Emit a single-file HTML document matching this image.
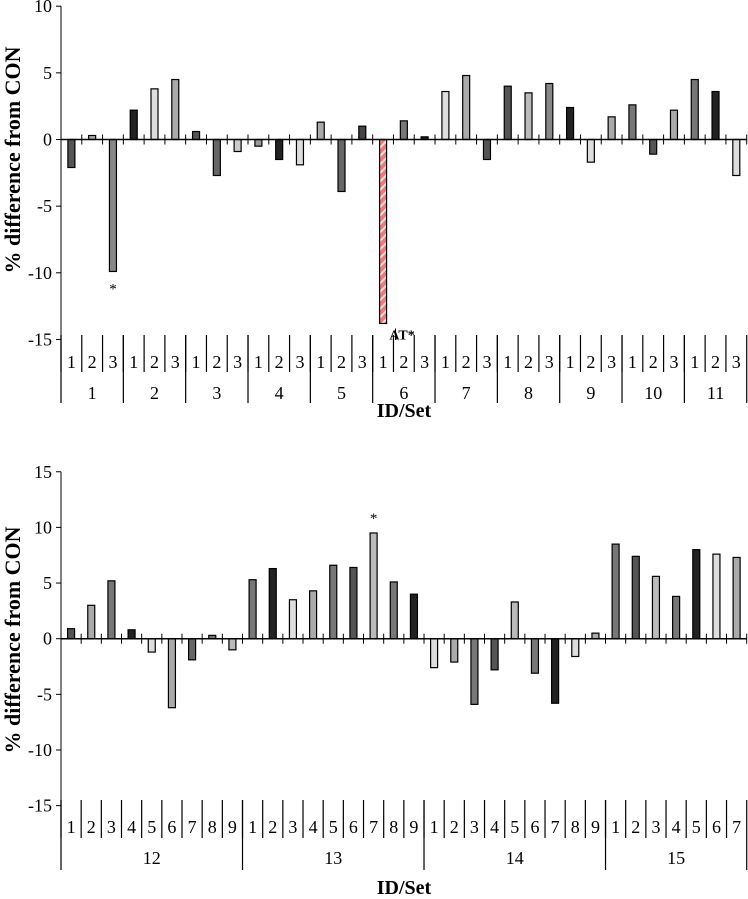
<!DOCTYPE html>
<html><head><meta charset="utf-8">
<style>
html,body{margin:0;padding:0;background:#fff;}
svg{display:block;}
text{font-family:"Liberation Serif",serif;fill:#000;}
</style></head>
<body>
<svg id="chart" width="748" height="899" xmlns="http://www.w3.org/2000/svg">
<defs>
<pattern id="hatch" patternUnits="userSpaceOnUse" width="6" height="6" patternTransform="rotate(45)">
<rect width="6" height="6" fill="#f07a7a"/>
<rect width="2" height="6" fill="#fbe0e0"/>
</pattern>
</defs>
</svg>
<script>
// Top chart data
var topGroups = ["1","2","3","4","5","6","7","8","9","10","11"];
var topSets = ["1","2","3"];
var topValues = [-2.1,0.3,-9.9, 2.2,3.8,4.5, 0.6,-2.7,-0.9, -0.5,-1.5,-1.9, 1.3,-3.9,1.0, -13.8,1.4,0.2, 3.6,4.8,-1.5, 4.0,3.5,4.2, 2.4,-1.7,1.7, 2.6,-1.1,2.2, 4.5,3.6,-2.7];
var topColors = ["#555","#aaa","#888", "#222","#ddd","#aaa", "#555","#666","#ccc", "#999","#222","#ddd", "#aaa","#666","#444", "url(#hatch)","#777","#222", "#ddd","#aaa","#555", "#555","#bbb","#888", "#222","#ddd","#aaa", "#777","#555","#aaa", "#777","#222","#ddd"];
var topTicks = [10,5,0,-5,-10,-15];
// Bottom chart data
var botGroups = ["12","13","14","15"];
var botGroupSizes = [9,9,9,7];
var botValues = [0.9,3.0,5.2,0.8,-1.2,-6.2,-1.9,0.3,-1.0, 5.3,6.3,3.5,4.3,6.6,6.4,9.5,5.1,4.0, -2.6,-2.1,-5.9,-2.8,3.3,-3.1,-5.8,-1.6,0.5, 8.5,7.4,5.6,3.8,8.0,7.6,7.3];
var botColors = ["#555","#aaa","#777","#222","#ddd","#aaa","#666","#777","#bbb", "#777","#222","#ddd","#aaa","#777","#555","#bbb","#777","#222", "#ddd","#aaa","#777","#555","#bbb","#777","#222","#ddd","#aaa", "#777","#555","#bbb","#777","#222","#ddd","#aaa"];
var botTicks = [15,10,5,0,-5,-10,-15];

var svg = document.getElementById('chart');
var NS = "http://www.w3.org/2000/svg";
function el(tag, attrs, parent){
  var e = document.createElementNS(NS, tag);
  for (var k in attrs) e.setAttribute(k, attrs[k]);
  (parent||svg).appendChild(e);
  return e;
}
function txt(s, x, y, size, anchor, weight, parent){
  var t = el('text', {x:x, y:y, 'font-size':size, 'text-anchor':anchor||'middle', 'font-weight':weight||'normal'}, parent);
  t.textContent = s;
  return t;
}

function drawChart(cfg){
  var g = el('g', {});
  
  
  var x0 = 61, x1 = 746.7;
  var n = cfg.values.length;
  var slot = (x1 - x0) / n;
  function yS(v){ return cfg.y0 - v * cfg.pxPerUnit; }
  function xS(i){ return x0 + slot * i; }
  var yTop = yS(cfg.ticks[0]);
  var ax = el('line', {x1:x0, y1:yTop, x2:x0, y2:cfg.groupBottom, stroke:'#000', 'stroke-width':1}, g);
  
  
  cfg.ticks.forEach(function(t){
    var y = yS(t);
    el('line', {x1:x0-5, y1:y, x2:x0, y2:y, stroke:'#000'}, g);
    var lab = txt(String(t), x0-9, y+6, 18, 'end', 'normal', g);
    
    
  });
  var bw = 7;
  cfg.values.forEach(function(v, i){
    var cx = xS(i) + slot/2;
    var y = yS(v), y0 = yS(0);
    var r = el('rect', {x:cx-bw/2, y:Math.min(y,y0), width:bw, height:Math.abs(y-y0), fill:cfg.colors[i], stroke:'#000', 'stroke-width':1.2}, g);
    
    
  });
  var z = yS(0);
  el('line', {x1:x0, y1:z, x2:x1, y2:z, stroke:'#000', 'stroke-width':1.5}, g);
  for (var i=1;i<=n;i++){
    el('line', {x1:xS(i), y1:z-5, x2:xS(i), y2:z+5, stroke:'#000'}, g);
  }
  for (var i=0;i<n;i++){
    el('line', {x1:xS(i), y1:cfg.sepTop, x2:xS(i), y2:cfg.sepBot, stroke:'#000', 'stroke-width':1.2}, g);
    var sl = txt(cfg.setLabels[i], xS(i)+slot/2, cfg.setY, 18, 'middle', 'normal', g);
    
    
  }
  el('line', {x1:x1, y1:cfg.sepTop, x2:x1, y2:cfg.groupBottom, stroke:'#000', 'stroke-width':1.2}, g);
  var idx = 0;
  cfg.groups.forEach(function(name, gi){
    var sz = cfg.groupSizes[gi];
    el('line', {x1:xS(idx), y1:cfg.sepTop, x2:xS(idx), y2:cfg.groupBottom, stroke:'#000', 'stroke-width':1.2}, g);
    var gl = txt(name, xS(idx + sz/2), cfg.groupY, 18, 'middle', 'normal', g);
    
    
    idx += sz;
  });
  var xt = txt('ID/Set', 404, cfg.xTitleY, 20, 'middle', 'bold', g);
  
  
  var yt = txt('% difference from CON', 0, 0, 22, 'middle', 'bold', g);
  yt.setAttribute('transform', 'translate(20,' + cfg.yTitleY + ') rotate(-90)');
  
  
  return {xS:xS, yS:yS, slot:slot, g:g};
}

var topSetLabels = [];
topGroups.forEach(function(){ topSets.forEach(function(s){ topSetLabels.push(s); }); });
var T = drawChart({name:'top-chart', values:topValues, colors:topColors, ticks:topTicks, y0:139.5, pxPerUnit:13.33,
  setLabels:topSetLabels, groups:topGroups, groupSizes:topGroups.map(function(){return 3;}),
  sepTop:335, sepBot:372, groupBottom:403, setY:368, groupY:399, xTitleY:417, yTitleY:160});
var a1 = txt('*', T.xS(2)+T.slot/2, T.yS(topValues[2])+22, 15, 'middle', 'normal', T.g);


var at = txt('AT*', T.xS(15)+T.slot/2+19, T.yS(topValues[15])+16, 14, 'middle', 'bold', T.g);


el('line', {x1:T.xS(16)+2, y1:T.yS(topValues[15])+5, x2:T.xS(16)+2, y2:340, stroke:'#000'}, T.g);

var botSetLabels = [];
botGroupSizes.forEach(function(sz){ for (var k=1;k<=sz;k++) botSetLabels.push(String(k)); });
var B = drawChart({name:'bottom-chart', values:botValues, colors:botColors, ticks:botTicks, y0:638.7, pxPerUnit:11.13,
  setLabels:botSetLabels, groups:botGroups, groupSizes:botGroupSizes,
  sepTop:800, sepBot:838, groupBottom:870, setY:833, groupY:864, xTitleY:894, yTitleY:640});
var a2 = txt('*', B.xS(15)+B.slot/2, B.yS(botValues[15])-10, 15, 'middle', 'normal', B.g);


</script>
</body></html>
